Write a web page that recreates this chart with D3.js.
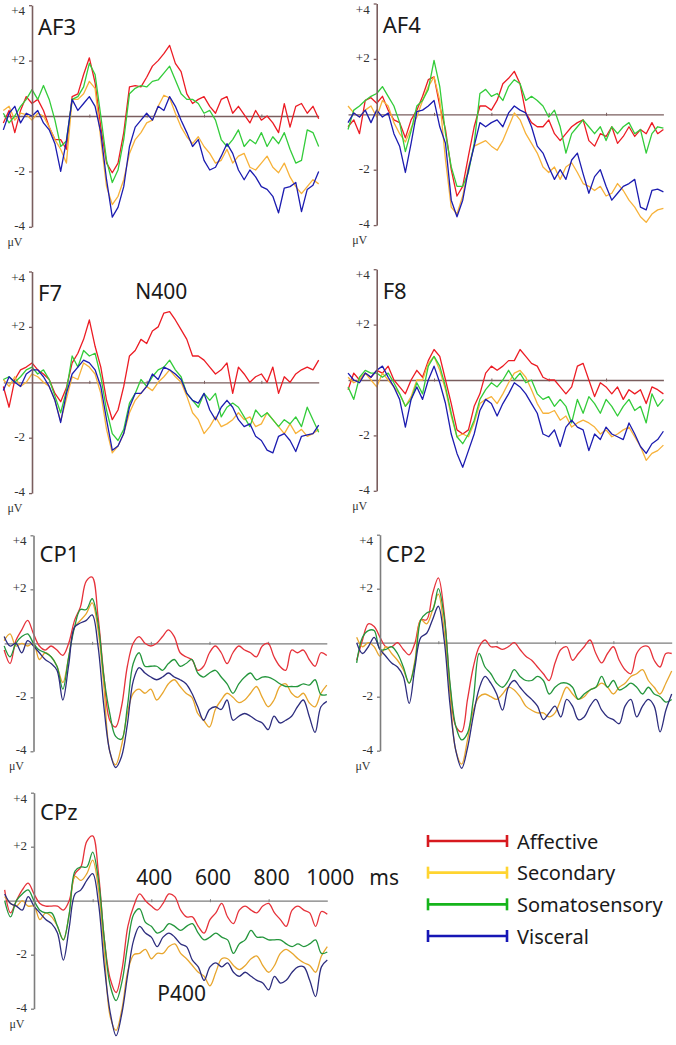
<!DOCTYPE html>
<html>
<head>
<meta charset="utf-8">
<script src="https://d3js.org/d3.v7.min.js"></script>
<style>
body { margin: 0; background: #fff; }
text { font-family: "Noto Sans", "Open Sans", sans-serif; fill: #1a1a1a; }
</style>
</head>
<body>
<svg id="drawing_region"></svg>
<script>
// time points (ms), one value every 20 ms
const times = [
  -100, -80, -60, -40, -20, 0, 20, 40, 60, 80,
  100, 120, 140, 160, 180, 200, 220, 240, 260, 280,
  300, 320, 340, 360, 380, 400, 420, 440, 460, 480,
  500, 520, 540, 560, 580, 600, 620, 640, 660, 680,
  700, 720, 740, 760, 780, 800, 820, 840, 860, 880,
  900, 920, 940, 960, 980, 1000];

const conditions = ["Affective", "Secondary", "Somatosensory", "Visceral"];
const ytick_values = [4, 2, -2, -4];
const ytick_labels = ["+4", "+2", "-2", "-4"];
const xtick_values = [200, 400, 600, 800];
const time_labels = [400, 600, 800, 1000];

// amplitudes in microvolts
const af3_affective = [
  -0.25, 0.2, -0.6, 0.2, 0.7, 0.45, 0.6, 0.2, -0.4, -0.85,
  -0.85, -1.2, 0.7, 0.8, 1.5, 2.1, 1.2, -0.4, -1.7, -2.05,
  -1.7, -0.6, 1.05, 1.1, 1.05, 1.4, 1.8, 2.0, 2.25, 2.55,
  1.9, 1.6, 0.8, 0.45, 0.6, 0.7, 0.35, 0.1, 0.6, 0.7,
  0.1, 0.35, 0.05, -0.25, 0.2, -0.15, 0, -0.25, -0.6, 0.45,
  -0.4, 0.35, 0.45, 0.1, 0.35, -0.1];
const af3_secondary = [
  0.2, 0.35, -0.15, 0.1, 0.05, -0.15, 0.1, 0, -0.4, -0.85,
  -1.2, -1.7, 0.6, 0.6, 0.8, 1.25, 1.0, -0.85, -2.55, -3.2,
  -2.9, -2.3, -1.35, -0.85, -0.6, -0.25, -0.15, 0.35, 0.75, 0.65,
  0.1, -0.4, -0.75, -1.0, -0.75, -1.1, -1.35, -1.7, -1.6, -1.2,
  -1.7, -1.45, -1.35, -1.85, -1.95, -1.7, -1.45, -1.85, -2.05, -1.7,
  -2.2, -2.55, -2.8, -2.55, -2.3, -2.45];
const af3_somatosensory = [
  0.1, -0.25, 0, 0.35, 0.6, 0.95, 0.6, 1.1, 0.6, -0.15,
  -1.1, -0.9, 0.6, 0.7, 1.05, 1.9, 1.5, 0, -1.6, -2.4,
  -1.95, -0.85, 0.8, 1.0, 1.1, 1.05, 1.25, 1.3, 1.55, 1.8,
  1.3, 0.8, 0.6, 0.6, 0.45, 0.1, 0.2, -0.15, -0.85, -1.1,
  -0.85, -0.5, -1.1, -0.85, -1.0, -0.6, -1.1, -0.75, -1.0, -0.6,
  -1.2, -1.7, -1.6, -0.5, -0.6, -1.1];
const af3_visceral = [
  -0.5, 0.1, 0.35, -0.25, 0.1, 0, 0.2, -0.25, -0.5, -1.0,
  -2.0, -0.9, 0.6, 0.2, 0.45, 0.7, 0.35, -0.6, -2.3, -3.65,
  -3.3, -2.55, -1.1, -0.4, -0.15, 0.1, -0.15, 0.35, 0.2, 0.7,
  0.35, -0.15, -0.6, -1.1, -0.85, -1.6, -1.95, -1.85, -1.45, -1.0,
  -1.35, -1.95, -2.3, -1.95, -2.2, -2.55, -2.65, -2.9, -3.5, -2.6,
  -2.55, -2.4, -3.45, -2.65, -2.5, -2.0];

const af4_affective = [
  -0.45, -0.2, -0.7, 0.5, 0.6, 0.4, 0.65, 0.15, -0.2, -0.3,
  -0.85, -0.2, 0.15, 0.65, 1.25, 1.35, 0.3, -0.55, -2.0, -2.95,
  -2.6, -1.5, -0.45, 0.3, 0.3, 0.15, 0.5, 1.1, 1.3, 1.55,
  1.1, 0.05, -0.3, -0.45, -0.45, -0.2, -0.7, -0.95, -0.7, -0.45,
  -0.3, -0.2, -0.95, -1.15, -0.7, -0.8, -0.45, -1.05, -0.8, -0.45,
  -0.8, -0.55, -0.7, -0.3, -0.7, -0.55];
const af4_secondary = [
  0.3, 0.05, -0.1, 0.15, 0.3, -0.1, 0.5, 0.3, -0.3, -0.7,
  -1.0, -0.5, -0.1, 0.5, 1.0, 1.35, 0.5, -1.65, -3.35, -3.6,
  -2.95, -1.9, -1.15, -1.05, -0.95, -1.15, -1.3, -0.95, -0.45, 0.05,
  -0.2, -0.7, -1.05, -1.4, -1.9, -2.1, -1.9, -2.35, -1.9, -1.75,
  -2.1, -2.5, -2.6, -2.75, -2.6, -2.95, -2.85, -2.5, -2.75, -3.1,
  -3.35, -3.7, -3.9, -3.6, -3.45, -3.4];
const af4_somatosensory = [
  -0.55, 0.15, 0.3, 0.5, 0.65, 0.75, 1.0, 0.65, 0.3, -0.3,
  -1.35, -0.6, 0.3, 0.5, 0.9, 1.95, 1.0, -0.7, -1.9, -2.6,
  -2.6, -2.1, -1.05, 0.75, 0.9, 0.65, 0.75, 0.5, 1.0, 1.25,
  1.1, 0.5, 0.65, 0.5, 0.3, -0.1, 0.15, -0.45, -1.4, -0.7,
  -0.45, -0.2, -0.45, -0.7, -0.45, -0.95, -0.45, -0.7, -0.45, -0.3,
  -0.7, -0.55, -1.4, -0.7, -0.45, -0.5];
const af4_visceral = [
  -0.3, 0.05, -0.1, 0.15, -0.3, 0.15, -0.1, 0.05, -0.7, -1.15,
  -2.1, -1.05, 0.1, 0.15, 0.3, 0.5, -0.45, -1.05, -3.1, -3.7,
  -3.1, -2.0, -1.15, -0.3, -0.45, -0.3, -0.2, -0.45, 0.05, 0.3,
  0.15, 0.05, -0.45, -1.15, -1.4, -1.9, -2.35, -2.0, -2.35, -1.65,
  -1.4, -2.15, -2.85, -2.25, -2.0, -2.6, -3.1, -2.85, -2.6, -2.5,
  -2.35, -3.35, -3.45, -2.75, -2.7, -2.8];

const f7_affective = [
  -0.15, -0.9, 0.1, 0.45, 0.55, 0.7, 0.45, 0.3, 0.1, -0.4,
  -0.7, -0.2, 0.7, 1.05, 1.55, 2.25, 1.3, 0.55, -0.65, -1.35,
  -1.0, -0.15, 0.95, 1.15, 1.55, 1.4, 1.85, 2.0, 2.5, 2.55,
  2.25, 1.9, 1.55, 0.95, 0.95, 0.8, 0.55, 0.3, 0.45, 0.7,
  -0.4, 0.55, 0.3, 0, 0.2, 0.3, 0, 0.55, -0.4, 0.2,
  0, 0.3, 0.45, 0.55, 0.45, 0.8];
const f7_secondary = [
  0.1, -0.15, 0.2, -0.15, 0, 0.3, 0.2, 0, -0.15, -0.65,
  -1.4, -0.6, 0.2, 0.1, 0.7, 0.55, 0.3, -0.4, -1.7, -2.55,
  -2.3, -1.85, -1.1, -0.65, -0.4, -0.15, -0.3, 0, 0.2, 0.45,
  0.2, 0, -0.5, -1.1, -1.35, -1.85, -1.6, -1.25, -1.6, -1.5,
  -1.35, -1.1, -1.35, -1.25, -1.6, -1.5, -1.1, -1.35, -1.6, -1.85,
  -1.5, -1.85, -1.7, -1.95, -1.85, -1.7];
const f7_somatosensory = [
  0.1, 0.2, 0, 0.2, 0.45, 0.55, 0.3, 0.45, 0.1, -0.5,
  -1.1, -0.3, 0.95, 0.55, 1.15, 0.95, 1.05, 0.2, -1.0, -1.85,
  -2.1, -1.7, -0.75, -0.4, 0.1, -0.15, 0.2, 0.45, 0.55, 0.8,
  0.45, 0.2, -0.4, -0.65, -0.9, -0.4, -0.65, -0.4, -1.25, -0.9,
  -0.75, -0.9, -1.25, -1.6, -1.0, -1.25, -1.1, -1.35, -1.6, -1.35,
  -1.5, -1.25, -1.6, -0.9, -1.35, -1.8];
const f7_visceral = [
  -0.3, 0.2, 0, -0.15, 0.3, 0.45, 0.45, 0.2, -0.15, -0.65,
  -1.45, -0.4, 0.3, 0.55, 0.8, 0.7, 0.45, -0.15, -1.35, -2.45,
  -2.3, -1.85, -0.9, -0.4, -0.4, -0.15, 0.3, 0.1, 0.55, 0.45,
  0.3, 0.1, -0.4, -0.65, -0.75, -0.4, -1.0, -1.35, -0.9, -0.65,
  -0.9, -1.35, -1.6, -1.5, -1.95, -2.1, -2.45, -2.55, -1.95, -1.85,
  -2.1, -2.5, -1.95, -1.9, -1.85, -1.55];

const f8_affective = [
  -0.35, 0.25, 0, 0.25, 0.1, 0.35, 0.25, 0.5, 0, -0.25,
  -0.5, 0, 0.35, 0.1, 0.7, 1.1, 0.85, 0, -0.85, -1.8,
  -1.95, -1.8, -0.95, -0.5, 0.25, 0.5, 0.35, 0.5, 0.7, 0.7,
  1.1, 0.85, 0.6, 0.5, 0.1, 0, 0, -0.25, -0.5, -0.25,
  0.5, 0.6, 0, -0.6, -0.1, -0.25, -0.5, -0.25, -0.7, -0.35,
  -0.5, -0.35, -0.85, -0.25, -0.35, -0.5];
const f8_secondary = [
  0.1, -0.1, 0, 0.25, 0, -0.25, 0.25, 0, -0.25, -0.5,
  -0.95, -0.6, 0, 0, 0.6, 0.85, 0.35, -0.35, -1.3, -2.05,
  -1.95, -2.05, -1.55, -0.85, -0.7, -0.6, -0.85, -0.5, -0.1, 0.25,
  0.35, 0.1, -0.35, -0.85, -1.2, -1.2, -1.1, -1.45, -1.3, -1.7,
  -1.55, -1.45, -1.55, -1.7, -1.95, -1.8, -2.05, -1.95, -1.8, -1.7,
  -2.05, -2.4, -2.9, -2.65, -2.55, -2.35];
const f8_somatosensory = [
  -0.25, -0.7, 0.1, 0.35, 0.25, 0.25, 0.1, 0.25, -0.1, -0.5,
  -0.95, -0.7, -0.1, -0.5, 0.5, 0.85, 0.5, -0.25, -1.2, -2.05,
  -2.3, -1.95, -1.45, -0.7, -0.35, -0.1, -0.25, 0, 0.35, 0,
  0.25, -0.1, 0, -0.5, -0.7, -0.6, -0.95, -0.7, -0.95, -1.55,
  -0.7, -1.2, -0.6, -0.85, -1.2, -0.7, -0.95, -1.3, -0.95, -0.7,
  -1.1, -0.95, -1.55, -0.5, -0.95, -0.7];
const f8_visceral = [
  0.25, 0, -0.1, 0.25, 0.1, 0.35, 0.5, 0.1, -0.25, -0.7,
  -1.7, -0.7, -0.25, -0.7, 0, 0.5, -0.1, -0.85, -1.95, -2.65,
  -3.15, -2.55, -1.95, -1.1, -0.7, -0.85, -1.3, -0.85, -0.5, -0.1,
  -0.25, -0.5, -0.85, -1.2, -1.95, -2.05, -1.8, -2.4, -1.7, -1.45,
  -1.7, -1.8, -2.55, -1.95, -2.15, -1.7, -1.95, -2.05, -2.15, -1.55,
  -1.95, -2.4, -2.65, -2.3, -2.15, -1.85];

const cp1_affective = [
  -0.25, -0.75, 0.1, 0.5, 0.85, 0.35, -0.1, -0.25, -0.1, -0.25,
  -0.45, 0, 0.85, 1.35, 2.3, 2.45, 1.0, -1.2, -2.85, -3.1,
  -2.35, -0.85, 0, 0.25, 0, -0.1, 0, 0.25, 0.5, 0.25,
  -0.35, -0.5, -0.6, -1.0, -0.85, -0.35, -0.1, -0.35, -0.75, -0.35,
  -0.1, -0.25, -0.35, -0.5, -0.1, 0, -0.5, -0.85, -1.0, -0.25,
  -0.35, -0.25, -0.6, -0.85, -0.35, -0.45];
const cp1_secondary = [
  0.1, 0.35, -0.1, 0, -0.1, 0, -0.6, -0.35, -0.5, -0.85,
  -1.45, -0.5, 0.6, 0.85, 1.1, 1.5, 0.5, -1.6, -4.0, -4.5,
  -3.8, -2.6, -1.85, -1.7, -1.85, -1.7, -2.1, -1.85, -1.5, -1.35,
  -1.6, -1.85, -2.0, -2.6, -2.85, -3.1, -2.45, -2.1, -1.85, -2.0,
  -2.2, -2.1, -1.85, -1.6, -2.0, -2.35, -2.1, -1.6, -1.5, -1.85,
  -2.0, -1.85, -2.2, -2.35, -1.85, -1.55];
const cp1_somatosensory = [
  -0.1, -0.5, 0, 0.25, 0.35, 0, -0.25, -0.35, -0.5, -0.85,
  -1.7, -0.5, 0.6, 1.25, 1.25, 1.65, 0.75, -1.25, -2.6, -3.45,
  -3.55, -2.35, -0.75, -0.35, -0.85, -0.85, -0.85, -1.0, -0.75, -0.6,
  -0.85, -0.75, -0.6, -1.1, -1.25, -1.1, -1.0, -1.25, -1.5, -1.85,
  -1.5, -1.25, -1.1, -1.35, -1.25, -1.25, -1.35, -1.5, -1.6, -1.6,
  -1.6, -1.5, -1.55, -1.35, -1.9, -1.9];
const cp1_visceral = [
  0.25, -0.1, 0, -0.35, 0.1, -0.1, -0.35, -0.6, -0.75, -1.0,
  -2.1, -0.8, 0.6, 0.75, 0.85, 1.05, -0.1, -2.35, -4.0, -4.6,
  -4.2, -3.0, -1.4, -0.9, -1.1, -1.25, -1.35, -1.25, -1.1, -1.25,
  -1.35, -1.5, -1.85, -2.35, -2.85, -2.45, -2.35, -2.45, -2.1, -2.85,
  -2.7, -2.6, -2.7, -2.85, -2.95, -3.2, -2.7, -2.95, -2.85, -2.7,
  -2.35, -2.1, -2.7, -3.3, -2.35, -2.15];

// CP2 is cut at the left edge: values start at -80 ms
const cp2_affective = [
  -0.65, 0.1, 0.7, 0.6, 0.2, -0.15, -0.15, 0, -0.25,
  -0.45, 0, 0.85, 0.85, 1.8, 2.4, 1.1, -1.6, -3.1, -3.3,
  -2.1, -0.9, -0.15, 0.1, -0.15, -0.15, -0.25, -0.15, 0, -0.25,
  -0.5, -0.65, -0.9, -1.15, -1.4, -0.75, -0.25, -0.15, -0.65, -0.4,
  -0.15, 0.1, -0.4, -0.75, -0.4, -0.15, -0.65, -1.0, -1.15, -0.4,
  -0.15, -0.15, -0.65, -0.9, -0.4, -0.4];
const cp2_secondary = [
  0.2, -0.15, 0, -0.15, -0.5, -0.15, -0.4, -0.65, -1.0,
  -1.5, -0.65, 0.85, 0.7, 1.2, 1.8, 0.45, -1.9, -4.0, -4.5,
  -3.6, -2.5, -2.0, -1.9, -2.0, -2.1, -1.9, -1.65, -1.75, -2.0,
  -2.35, -2.5, -2.6, -2.6, -2.75, -2.6, -2.1, -1.65, -1.9, -2.1,
  -2.0, -1.75, -1.65, -1.5, -1.65, -1.9, -1.65, -1.5, -1.25, -1.15,
  -1.0, -1.4, -1.65, -1.9, -1.5, -1.05];
const cp2_somatosensory = [
  -0.75, 0.2, 0.45, 0.45, -0.25, -0.25, -0.15, -0.4, -0.9,
  -1.5, -0.75, 0.85, 1.1, 1.2, 2.0, 0.95, -1.5, -3.1, -3.6,
  -3.35, -2.1, -0.4, -0.9, -1.15, -1.5, -1.65, -1.4, -1.0, -1.25,
  -1.4, -1.4, -1.25, -1.4, -1.9, -1.65, -1.5, -1.5, -1.65, -2.1,
  -1.9, -1.75, -1.65, -1.25, -1.65, -1.4, -1.75, -1.65, -1.5, -1.65,
  -1.9, -1.65, -1.9, -2.0, -2.2, -2.1];
const cp2_visceral = [
  0, -0.4, -0.15, 0.2, -0.25, -0.5, -0.75, -0.9, -1.25,
  -2.25, -0.9, 0.2, 0.35, 0.85, 1.35, 0.1, -2.3, -4.0, -4.65,
  -3.9, -2.7, -1.7, -1.25, -1.5, -1.9, -2.5, -1.65, -1.4, -1.65,
  -1.9, -2.1, -2.35, -2.85, -2.6, -2.35, -2.75, -2.1, -2.35, -2.85,
  -2.75, -2.35, -2.1, -2.5, -2.75, -2.85, -3.0, -2.35, -2.1, -2.75,
  -2.35, -2.1, -2.35, -3.3, -2.5, -1.9];

const cpz_affective = [
  0.4, -0.45, 0, 0.4, 0.65, 0.25, -0.1, -0.2, -0.2, -0.2,
  -0.35, 0, 1.0, 1.25, 2.2, 2.4, 1.0, -1.45, -2.9, -3.4,
  -2.55, -0.95, -0.2, 0.25, 0, -0.2, -0.35, -0.1, 0.25, 0.15,
  -0.35, -0.6, -0.6, -0.95, -1.2, -0.7, -0.45, -0.1, -0.6, -0.85,
  -0.35, -0.2, -0.35, -0.45, -0.2, -0.1, -0.45, -0.7, -0.95, -0.35,
  -0.2, -0.35, -0.45, -0.95, -0.4, -0.5];
const cpz_secondary = [
  0.15, -0.1, -0.2, 0, -0.2, -0.2, -0.7, -0.45, -0.6, -0.95,
  -1.45, -0.5, 0.9, 0.75, 1.0, 1.5, 0.4, -1.95, -4.3, -4.8,
  -4.0, -2.6, -2.0, -1.95, -1.8, -2.15, -1.95, -1.95, -1.7, -1.6,
  -1.95, -2.15, -2.4, -2.65, -2.8, -3.15, -2.65, -2.15, -2.15, -2.4,
  -2.55, -2.4, -2.15, -2.05, -2.4, -2.65, -2.4, -1.95, -1.8, -1.95,
  -2.15, -2.3, -2.4, -2.65, -2.05, -1.7];
const cpz_somatosensory = [
  0, -0.6, 0, 0.25, 0.4, 0, -0.35, -0.45, -0.45, -0.95,
  -1.45, -0.5, 1.1, 1.25, 1.25, 1.8, 0.75, -1.45, -3.15, -3.7,
  -3.0, -1.6, -0.5, -0.3, -0.8, -0.95, -1.2, -1.1, -0.85, -0.95,
  -1.1, -0.95, -0.85, -1.2, -1.45, -1.35, -1.2, -1.35, -1.45, -1.95,
  -1.6, -1.45, -1.1, -1.35, -1.35, -1.45, -1.45, -1.45, -1.6, -1.7,
  -1.6, -1.7, -1.6, -1.45, -1.95, -1.9];
const cpz_visceral = [
  0.25, -0.1, -0.2, -0.35, 0.15, -0.2, -0.45, -0.7, -0.85, -1.2,
  -2.2, -1.0, 0.25, 0.4, 0.75, 1.0, -0.1, -2.45, -4.15, -5.0,
  -4.15, -2.7, -1.45, -0.95, -1.2, -1.35, -1.7, -1.35, -1.2, -1.35,
  -1.6, -1.7, -2.2, -2.45, -2.95, -2.45, -2.3, -2.45, -2.3, -2.65,
  -2.8, -2.65, -2.8, -2.95, -3.05, -3.3, -2.8, -3.05, -2.95, -2.65,
  -2.45, -2.45, -2.95, -3.55, -2.45, -2.2];

const frontal_colors = ["#ec1c24", "#f7b23a", "#33cc3a", "#1c1cb0"];
const parietal_colors = ["#e6323a", "#e8a62e", "#24963c", "#2d2d7e"];
const legend_colors = ["#d7191f", "#ffd430", "#16b41c", "#1717b5"];

const svg = d3.select('#drawing_region')
    .attr('width', 676)
    .attr('height', 1045);

class ERPPanel {

    constructor( config, series ) {
        this.config = {
            name: config.name,
            axis_x: config.axis_x,
            zero_y: config.zero_y,
            px_ms: config.px_ms,
            px_uv: config.px_uv,
            t: config.t || times,
            colors: config.colors,
            axis_color: config.axis_color,
            smooth: config.smooth || false,
        };
        this.series = series;
        this.init();
    }

    init() {
        let self = this;
        let c = self.config;

        self.chart = svg.append('g');

        self.xscale = d3.scaleLinear()
            .domain( [c.t[0], 1000] )
            .range( [c.axis_x + c.t[0]*c.px_ms, c.axis_x + 1000*c.px_ms] );

        self.yscale = d3.scaleLinear()
            .domain( [-4, 4] )
            .range( [c.zero_y + 4*c.px_uv, c.zero_y - 4*c.px_uv] );

        self.xaxis = d3.axisBottom( self.xscale )
            .tickValues( xtick_values )
            .tickFormat( "" )
            .tickSizeInner( 3 )
            .tickSizeOuter( 0 );

        self.yaxis = d3.axisLeft( self.yscale )
            .tickValues( ytick_values )
            .tickFormat( (d, i) => ytick_labels[i] )
            .tickSizeInner( 3 )
            .tickSizeOuter( 0 );

        self.line = d3.line()
            .x( (d, i) => self.xscale( c.t[i] ) )
            .y( d => self.yscale( d ) )
            .curve( c.smooth ? d3.curveCatmullRom.alpha(0.5) : d3.curveLinear );
    }

    render() {
        let self = this;
        let c = self.config;

        const xg = self.chart.append('g')
            .attr('transform', `translate(0, ${c.zero_y})`)
            .call( self.xaxis );
        xg.select('.domain').attr('stroke', c.axis_color).attr('stroke-width', 1.3);
        xg.selectAll('.tick line').attr('stroke', c.axis_color).attr('y1', -1.5).attr('y2', 1.5);

        self.chart.selectAll('path.trace')
            .data( self.series )
            .enter()
            .append('path')
            .attr('class', 'trace')
            .attr('fill', 'none')
            .attr('stroke', (d, i) => c.colors[i])
            .attr('stroke-width', 1.3)
            .attr('stroke-linejoin', 'round')
            .attr('d', d => self.line( d ));

        const yg = self.chart.append('g')
            .attr('transform', `translate(${self.xscale(0)}, 0)`)
            .call( self.yaxis );
        yg.select('.domain').attr('stroke', c.axis_color).attr('stroke-width', 1.6);
        yg.selectAll('.tick line').attr('stroke', c.axis_color).attr('stroke-width', 1.3);
        // the top label sits just under the end of the axis
        yg.selectAll('.tick text')
            .attr('x', -7)
            .attr('y', d => d === 4 ? 5.5 : -1.5)
            .style('font-family', '"Liberation Serif", "DejaVu Serif", serif')
            .style('font-size', '13px')
            .style('fill', '#333');

        self.chart.append('text')
            .attr('x', self.xscale(0) - 17)
            .attr('y', self.yscale(-4) + 19)
            .attr('text-anchor', 'middle')
            .style('font-family', '"Liberation Serif", "DejaVu Serif", serif')
            .style('font-size', '12px')
            .style('fill', '#333')
            .text('\u03bcV');

        self.chart.append('text')
            .attr('x', self.xscale(0) + 6)
            .attr('y', c.zero_y - 81)
            .style('font-size', '22px')
            .text(c.name);
    }
}

const frontal = { px_ms: 0.2867, px_uv: 27.7, colors: frontal_colors, axis_color: '#7a5e5e' };
const parietal = { px_uv: 27.0, colors: parietal_colors, axis_color: '#7d7d7d', smooth: true };

const panels = [
    new ERPPanel( Object.assign({ name: 'AF3', axis_x: 32, zero_y: 116 }, frontal),
        [af3_affective, af3_secondary, af3_somatosensory, af3_visceral] ),
    new ERPPanel( Object.assign({ name: 'AF4', axis_x: 376.7, zero_y: 114.3 }, frontal),
        [af4_affective, af4_secondary, af4_somatosensory, af4_visceral] ),
    new ERPPanel( Object.assign({ name: 'F7', axis_x: 32, zero_y: 382.3 }, frontal),
        [f7_affective, f7_secondary, f7_somatosensory, f7_visceral] ),
    new ERPPanel( Object.assign({ name: 'F8', axis_x: 376.7, zero_y: 380 }, frontal),
        [f8_affective, f8_secondary, f8_somatosensory, f8_visceral] ),
    new ERPPanel( Object.assign({ name: 'CP1', axis_x: 33.5, zero_y: 643.3, px_ms: 0.2933 }, parietal),
        [cp1_affective, cp1_secondary, cp1_somatosensory, cp1_visceral] ),
    new ERPPanel( Object.assign({ name: 'CP2', axis_x: 380, zero_y: 642.7, px_ms: 0.2917, t: times.slice(1) }, parietal),
        [cp2_affective, cp2_secondary, cp2_somatosensory, cp2_visceral] ),
    new ERPPanel( Object.assign({ name: 'CPz', axis_x: 34, zero_y: 900.7, px_ms: 0.2933 }, parietal),
        [cpz_affective, cpz_secondary, cpz_somatosensory, cpz_visceral] ),
];
panels.forEach( p => p.render() );

// component labels
const f7 = panels[2], cpz = panels[6];
svg.append('text')
    .attr('x', f7.xscale(360)).attr('y', f7.yscale(3.0))
    .style('font-size', '21px').text('N400');
svg.append('text')
    .attr('x', cpz.xscale(420)).attr('y', cpz.yscale(-3.7))
    .style('font-size', '21px').text('P400');

// time labels on the CPz panel
svg.selectAll('text.tlabel')
    .data( time_labels )
    .enter()
    .append('text')
    .attr('class', 'tlabel')
    .attr('x', d => cpz.xscale(d) + 3)
    .attr('y', cpz.yscale(0) - 16)
    .attr('text-anchor', 'middle')
    .style('font-size', '21px')
    .text(d => d);
svg.append('text')
    .attr('x', cpz.xscale(1000) + 42)
    .attr('y', cpz.yscale(0) - 16)
    .style('font-size', '21px')
    .text('ms');

// legend
const ly = d3.scalePoint().domain(conditions).range([841, 936]);
const legend = svg.append('g');
const items = legend.selectAll('g')
    .data(conditions)
    .enter()
    .append('g')
    .attr('transform', d => `translate(0, ${ly(d)})`);
items.append('line')
    .attr('x1', 428).attr('x2', 507).attr('y1', 0).attr('y2', 0)
    .attr('stroke', (d, i) => legend_colors[i]).attr('stroke-width', 2.6);
[428, 507].forEach( x => {
    items.append('line')
        .attr('x1', x).attr('x2', x).attr('y1', -6).attr('y2', 6)
        .attr('stroke', (d, i) => legend_colors[i]).attr('stroke-width', 2.6);
});
items.append('text')
    .attr('x', 517).attr('y', 0)
    .attr('dominant-baseline', 'central')
    .style('font-size', '20px')
    .text(d => d);
</script>
</body>
</html>
